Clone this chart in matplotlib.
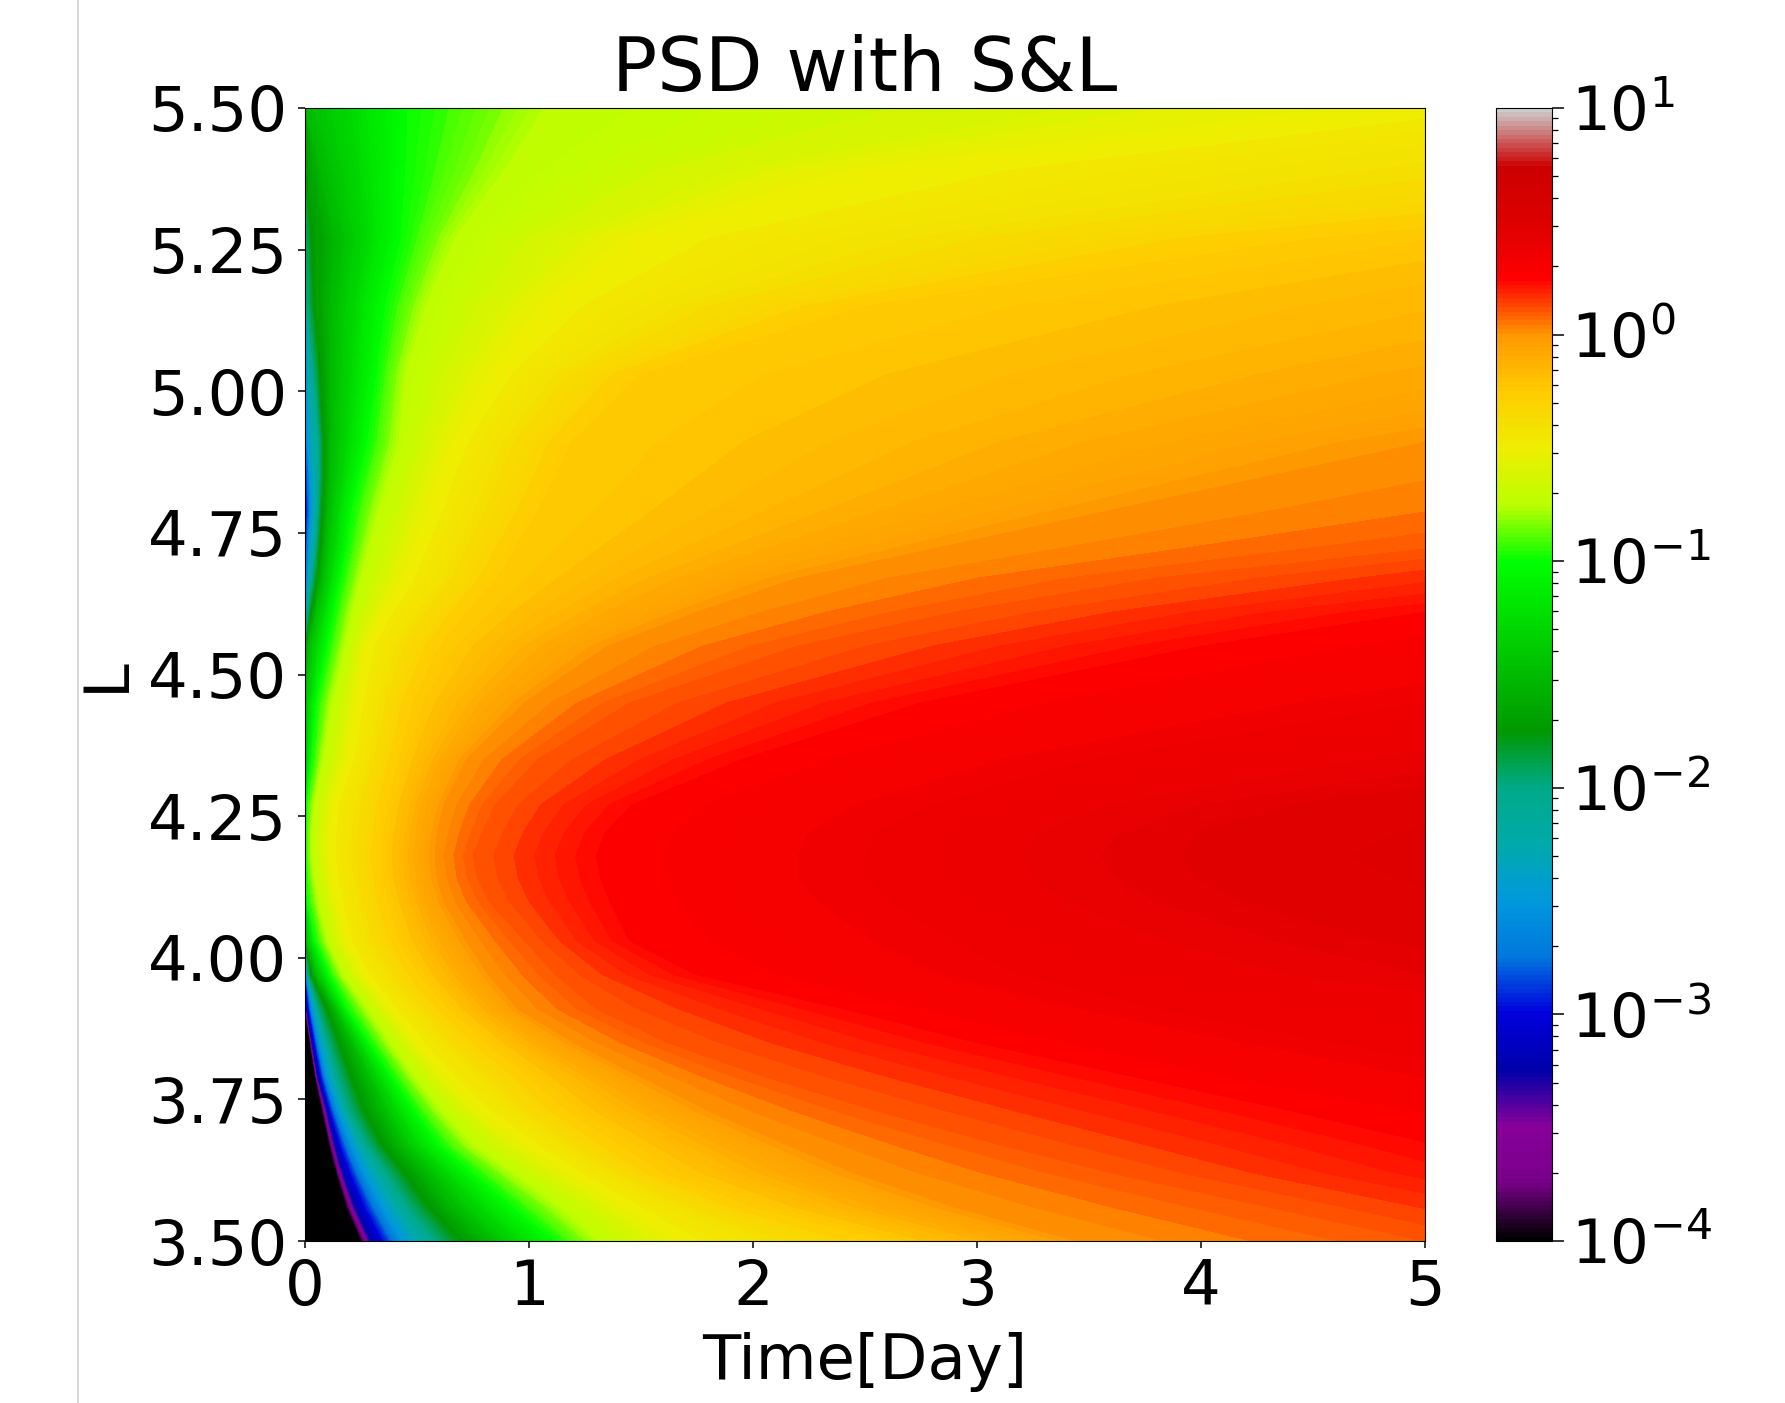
import numpy as np
import matplotlib
matplotlib.use('Agg')
import matplotlib.pyplot as plt
from matplotlib.colors import LogNorm, Normalize
from matplotlib.cm import ScalarMappable
from matplotlib.lines import Line2D

# for each L, the day at which log10(PSD) reaches each level.
# 0 means already above that level at day 0, anything past 5 is off the right edge
log_levels = [-4.6, -4, -3.25, -3, -2.5, -2, -1.75, -1.5, -1, -.75, -.5, -.25, 0, .1, .25, .35, .45, .55]
l_shell = [3.5, 3.56, 3.62, 3.67, 3.73, 3.79, 3.85, 3.91, 3.97, 4.03, 4.1, 4.14, 4.18, 4.22, 4.27, 4.35,
           4.45, 4.55, 4.61, 4.67, 4.73, 4.79, 4.85, 4.91, 5.03, 5.15, 5.27, 5.39, 5.5]
reach_day = [
    [0, .25, .295, .345, .44, .58, .7, .83, 1.12, 1.31, 1.68, 2.6, 3.45, 5.0, 7, 9, 11, 13],
    [0, .185, .225, .265, .35, .46, .56, .67, .93, 1.14, 1.45, 2.0, 2.9, 4.3, 6.3, 8.3, 11, 13],
    [0, .14, .17, .2, .27, .365, .45, .55, .75, .93, 1.2, 1.6, 2.45, 3.6, 5.5, 7.7, 10.5, 13],
    [0, .108, .135, .155, .21, .28, .35, .43, .6, .75, 1.0, 1.4, 2.15, 3.1, 5.05, 7.2, 10, 13],
    [0, .076, .1, .11, .15, .2, .27, .35, .49, .61, .8, 1.17, 1.8, 2.55, 4.4, 6.5, 10, 13],
    [0, .046, .058, .07, .1, .15, .21, .28, .39, .49, .64, 1.0, 1.5, 2.05, 3.7, 5.4, 10, 13],
    [0, .022, .032, .042, .065, .105, .155, .21, .29, .38, .51, .81, 1.2, 1.62, 3.0, 4.6, 9, 13],
    [0, 0, .008, .015, .035, .06, .1, .135, .19, .28, .39, .64, .95, 1.3, 2.4, 3.8, 7.5, 13],
    [0, 0, 0, 0, .005, .015, .03, .05, .11, .17, .27, .51, .82, 1.12, 1.75, 3.2, 5.6, 10],
    [0, 0, 0, 0, 0, 0, 0, .005, .045, .1, .19, .42, .72, .98, 1.45, 2.9, 4.8, 9],
    [0, 0, 0, 0, 0, 0, 0, 0, .01, .06, .15, .37, .62, .82, 1.36, 2.6, 4.2, 8],
    [0, 0, 0, 0, 0, 0, 0, 0, .005, .04, .13, .35, .59, .77, 1.32, 2.5, 4.0, 7.5],
    [0, 0, 0, 0, 0, 0, 0, 0, 0, .03, .12, .34, .58, .75, 1.3, 2.5, 3.9, 7],
    [0, 0, 0, 0, 0, 0, 0, 0, 0, .03, .12, .35, .59, .79, 1.34, 2.55, 4.0, 7.5],
    [0, 0, 0, 0, 0, 0, 0, 0, .005, .04, .13, .37, .62, .85, 1.46, 2.8, 4.4, 8],
    [0, 0, 0, 0, 0, 0, 0, 0, .03, .08, .2, .42, .72, 1.04, 1.95, 3.5, 6, 10],
    [0, 0, 0, 0, 0, 0, 0, 0, .05, .12, .24, .48, .98, 1.45, 2.75, 5, 7.8, 12],
    [0, 0, 0, 0, 0, 0, 0, .02, .1, .18, .28, .6, 1.35, 2.2, 4.0, 6.8, 10, 13],
    [0, 0, 0, 0, 0, .012, .03, .05, .13, .21, .36, .72, 1.75, 2.9, 5.0, 8, 11, 14],
    [0, 0, 0, 0, .01, .035, .055, .08, .16, .25, .45, .86, 2.2, 3.8, 6.5, 9, 12, 14],
    [0, 0, 0, 0, .02, .05, .07, .095, .19, .29, .51, .95, 2.9, 5.2, 7.5, 10, 12, 14],
    [0, 0, 0, .005, .03, .06, .08, .105, .21, .33, .57, 1.04, 3.6, 6.5, 8.5, 10, 12, 14],
    [0, 0, 0, 0, .025, .065, .085, .115, .245, .375, .62, 1.12, 4.3, 7.5, 9.5, 11, 12, 14],
    [0, 0, 0, 0, .01, .065, .085, .12, .28, .42, .68, 1.19, 5, 8, 10, 11, 12, 14],
    [0, 0, 0, 0, 0, .04, .07, .12, .32, .45, .86, 1.5, 7, 9.5, 10.5, 12, 13, 14],
    [0, 0, 0, 0, 0, .01, .045, .12, .36, .54, 1.1, 2.5, 9, 10.5, 11, 12, 13, 14],
    [0, 0, 0, 0, 0, 0, .03, .15, .43, .67, 1.5, 4.5, 10, 11, 12, 13, 14, 15],
    [0, 0, 0, 0, 0, 0, 0, .08, .45, .89, 2.6, 8, 11, 12, 13, 14, 15, 16],
    [0, 0, 0, 0, 0, 0, 0, 0, .46, 1.07, 5.0, 9, 11, 12, 13, 14, 15, 16],
]

x_ticks = [0, 1, 2, 3, 4, 5]
y_ticks = [3.5, 3.75, 4.0, 4.25, 4.5, 4.75, 5.0, 5.25, 5.5]

W, H = 1785, 1403
fig = plt.figure(figsize=(W / 100, H / 100), dpi=100)

# axes placed in pixels, same as the reference
ax = fig.add_axes([305 / W, 1 - 1241 / H, 1120 / W, 1133 / H])
cax = fig.add_axes([1496 / W, 1 - 1241 / H, 56 / W, 1133 / H])

cmap = plt.get_cmap('nipy_spectral')

# curvilinear grid: one row per L, one column per level
X = np.array(reach_day, dtype=float)
Y = np.tile(np.array(l_shell)[:, None], (1, X.shape[1]))
Z = np.tile(np.array(log_levels), (X.shape[0], 1))
ax.contourf(X, Y, Z, levels=np.linspace(-4, 1, 201), cmap=cmap,
            norm=Normalize(-4, 1), extend='both', antialiased=False)

ax.set_xlim(0, 5)
ax.set_ylim(3.5, 5.5)
ax.set_xticks(x_ticks)
ax.set_yticks(y_ticks)
ax.set_yticklabels(['%.2f' % v for v in y_ticks])
ax.tick_params(labelsize=45, length=5, width=1.1)
ax.tick_params(axis='y', pad=8)
ax.tick_params(axis='x', pad=7)
ax.set_title('PSD with S&L', fontsize=54, pad=12)
ax.set_xlabel('Time[Day]', fontsize=45, labelpad=10)
ax.set_ylabel('L', fontsize=45)
ax.yaxis.set_label_coords(-0.15, 0.5)

cb = fig.colorbar(ScalarMappable(norm=LogNorm(1e-4, 10), cmap=cmap), cax=cax)
cb.ax.tick_params(which='major', labelsize=44, length=8.5, width=1.1, pad=5)
cb.ax.tick_params(which='minor', length=4.5, width=0.9)

# thin grey page edge on the left of the screenshot
fig.add_artist(Line2D([78 / W, 78 / W], [0, 1], color='#cfcfcf', lw=1.2))

fig.savefig('out.png', dpi=100)
